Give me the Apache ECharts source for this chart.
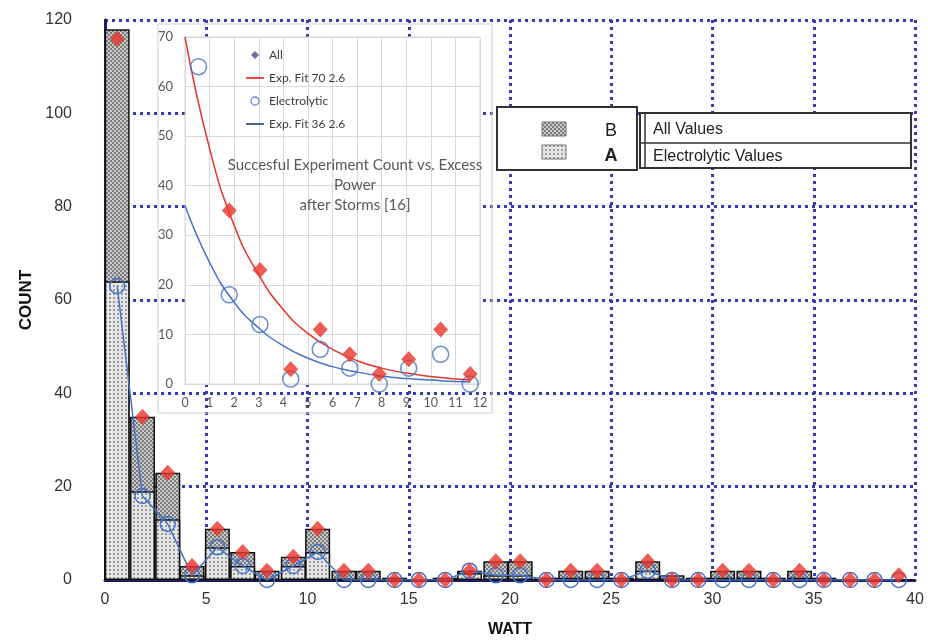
<!DOCTYPE html>
<html><head><meta charset="utf-8">
<script src="https://cdn.jsdelivr.net/npm/echarts@6/dist/echarts.min.js"></script>
<style>html,body{margin:0;padding:0;background:#fff}#c{width:928px;height:640px}</style>
</head><body><div id="c"></div>
<script>
// ---- main histogram data (bin centres in W, counts) ----
const binCenters = [0.6, 1.85, 3.1, 4.3, 5.55, 6.8, 8.0, 9.3, 10.5, 11.8, 13.0, 14.3, 15.5, 16.8, 18.0, 19.3, 20.5, 21.8, 23.0, 24.3, 25.5, 26.8, 28.0, 29.3, 30.5, 31.8, 33.0, 34.3, 35.5, 36.8, 38.0, 39.2];
const allCounts  = [116, 35, 23, 3, 11, 6, 2, 5, 11, 2, 2, 0, 0, 0, 2, 4, 4, 0, 2, 2, 0, 4, 0, 0, 2, 2, 0, 2, 0, 0, 0, 1];
const elecCounts = [63, 18, 12, 1, 7, 3, 0, 3, 6, 0, 0, 0, 0, 0, 2, 1, 1, 0, 0, 0, 0, 2, 0, 0, 0, 0, 0, 0, 0, 0, 0, 0];
const allBars    = [118, 35, 23, 3, 11, 6, 2, 5, 11, 2, 2, 0.5, 0, 0.5, 2, 4, 4, 0.5, 2, 2, 0.5, 4, 1, 0.5, 2, 2, 0.5, 2, 0.5, 0, 0, 0];
const elecBars   = [64, 19, 13, 1, 7, 3, 0, 3, 6, 0, 0, 0, 0, 0, 1.5, 1, 1, 0, 0.5, 0.5, 0, 2, 0, 0, 0.5, 0.5, 0, 0.5, 0, 0, 0, 0];
const mainXTicks = [0, 5, 10, 15, 20, 25, 30, 35, 40];
const mainYTicks = [0, 20, 40, 60, 80, 100, 120];

// ---- inset data ----
const insetX    = [0.55, 1.8, 3.05, 4.3, 5.5, 6.7, 7.9, 9.1, 10.4, 11.6];
const insetAll  = [116, 35, 23, 3, 11, 6, 2, 5, 11, 2];
const insetElec = [64, 18, 12, 1, 7, 3.2, 0, 3.2, 6, 0];
const fitX      = [0, 1, 2, 3, 4, 5, 6, 7, 8, 9, 10, 11, 11.6];
const fitAll    = [70, 47.5, 32, 22, 15, 10.2, 7, 4.7, 3.2, 2.2, 1.5, 1.0, 0.8];
const fitElec   = [36, 24.5, 16.5, 11.3, 7.7, 5.2, 3.5, 2.4, 1.6, 1.1, 0.8, 0.5, 0.4];
const insetTitle = 'Succesful Experiment Count vs. Excess\nPower\nafter Storms [16]';
const insetNames = ['All', 'Exp. Fit 70 2.6', 'Electrolytic', 'Exp. Fit 36 2.6'];
const legendRows = [['B', 'All Values'], ['A', 'Electrolytic Values']];

function makePattern(w, h, bg, fg, cells) {
  const c = document.createElement('canvas'); c.width = w; c.height = h;
  const g = c.getContext('2d'); g.fillStyle = bg; g.fillRect(0, 0, w, h);
  g.fillStyle = fg; cells.forEach(r => g.fillRect(r[0], r[1], r[2], r[3]));
  return c;
}
const patB = makePattern(4, 4, '#7c7c7c', '#c8c8c8', [[0, 0, 2, 2], [2, 2, 2, 2]]);
const patA = makePattern(4, 4, '#e6e6e6', '#9c9c9c', [[1, 1, 2, 2]]);
const fillB = { image: patB, repeat: 'repeat' };
const fillA = { image: patA, repeat: 'repeat' };

const zip = (xs, ys) => xs.map((x, i) => [x, ys[i]]);
const RED = '#e8342b', BLUE = '#4472c4', GRIDBLUE = '#3a3ab0';
const mainFont = 'Liberation Sans, Arial, sans-serif';
const insetFont = 'Lato, Open Sans, sans-serif';
const lineIcon = 'path://M0,0L20,0L20,2L0,2Z';
const diamondIcon = 'path://M5,0L10,5L5,10L0,5Z';
const circleIcon = 'path://M5,0A5,5,0,1,1,4.99,0Z';

const chart = echarts.init(document.getElementById('c'), null, { renderer: 'canvas' });

const graphics = [
  { type: 'rect', zlevel: 1, z: -5, shape: { x: 158, y: 24, width: 334, height: 389 }, style: { fill: 'transparent', stroke: '#d0d0d0', lineWidth: 1 } },
  { type: 'text', zlevel: 1, z: 50, style: { text: insetTitle, x: 355, y: 155, textAlign: 'center', align: 'center', font: '15px ' + insetFont, lineHeight: 20, fill: '#595959' } },
  // main legend box
  { type: 'rect', zlevel: 1, shape: { x: 497, y: 107, width: 140, height: 63 }, style: { fill: '#fff', stroke: '#333', lineWidth: 2 } },
  { type: 'rect', zlevel: 1, shape: { x: 640, y: 113, width: 271, height: 55 }, style: { fill: '#fff', stroke: '#333', lineWidth: 2 } },
  { type: 'line', zlevel: 1, shape: { x1: 645, y1: 113, x2: 645, y2: 168 }, style: { stroke: '#333', lineWidth: 1.5 } },
  { type: 'line', zlevel: 1, shape: { x1: 640, y1: 143, x2: 911, y2: 143 }, style: { stroke: '#333', lineWidth: 1.5 } },
  { type: 'rect', zlevel: 1, shape: { x: 542, y: 122, width: 24, height: 14 }, style: { fill: fillB, stroke: '#777', lineWidth: 1 } },
  { type: 'rect', zlevel: 1, shape: { x: 542, y: 145, width: 24, height: 14 }, style: { fill: fillA, stroke: '#777', lineWidth: 1 } },
];
legendRows.forEach((r, i) => {
  graphics.push({ type: 'text', zlevel: 1, style: { text: r[0], x: 611, y: 131 + i * 25, textAlign: 'center', align: 'center', textVerticalAlign: 'middle', verticalAlign: 'middle', font: (i ? 'bold ' : '') + '18px ' + mainFont, fill: '#222' } });
  graphics.push({ type: 'text', zlevel: 1, style: { text: r[1], x: 653, y: 130 + i * 27, textVerticalAlign: 'middle', verticalAlign: 'middle', font: '16px ' + mainFont, fill: '#222' } });
});

const option = {
  animation: false,
  backgroundColor: '#fff',
  grid: [
    { left: 105, top: 20, width: 810, height: 560, show: false, containLabel: false, outerBoundsMode: 'none' },
    { left: 185, top: 37, width: 295, height: 347, show: true, backgroundColor: '#fff', borderColor: '#d9d9d9', borderWidth: 1, zlevel: 1, containLabel: false, outerBoundsMode: 'none' }
  ],
  xAxis: [
    { type: 'value', gridIndex: 0, min: mainXTicks[0], max: mainXTicks[mainXTicks.length - 1], interval: 5,
      name: 'WATT', nameLocation: 'middle', nameGap: 42, nameTextStyle: { fontFamily: mainFont, fontWeight: 'bold', fontSize: 16, color: '#111' },
      axisLine: { show: true, onZero: false, lineStyle: { color: '#1c1c62', width: 3 } }, axisTick: { show: false },
      axisLabel: { fontFamily: mainFont, fontSize: 16, color: '#333', margin: 12 },
      splitLine: { show: true, lineStyle: { color: GRIDBLUE, width: 3, type: [3, 4] } } },
    { type: 'value', gridIndex: 1, min: 0, max: 12, interval: 1, zlevel: 1,
      axisLine: { show: true, onZero: false, lineStyle: { color: '#d9d9d9' } }, axisTick: { show: false },
      axisLabel: { fontFamily: insetFont, fontSize: 12.5, color: '#595959', margin: 12 },
      splitLine: { show: true, lineStyle: { color: '#d9d9d9', width: 1 } } }
  ],
  yAxis: [
    { type: 'value', gridIndex: 0, min: mainYTicks[0], max: mainYTicks[mainYTicks.length - 1], interval: 20,
      name: 'COUNT', nameLocation: 'middle', nameGap: 64, nameTextStyle: { fontFamily: mainFont, fontWeight: 'bold', fontSize: 17, color: '#111' },
      axisLine: { show: true, lineStyle: { color: '#1c1c62', width: 3 } }, axisTick: { show: false },
      axisLabel: { fontFamily: mainFont, fontSize: 16, color: '#333', margin: 33 },
      splitLine: { show: true, lineStyle: { color: GRIDBLUE, width: 3, type: [3, 4] } } },
    { type: 'value', gridIndex: 1, min: 0, max: 70, interval: 10, zlevel: 1,
      axisLine: { show: false }, axisTick: { show: false },
      axisLabel: { fontFamily: insetFont, fontSize: 13, color: '#595959', margin: 12 },
      splitLine: { show: true, lineStyle: { color: '#d9d9d9', width: 1 } } }
  ],
  legend: {
    zlevel: 1, orient: 'vertical', left: 241, top: 44, itemWidth: 18, itemHeight: 8, itemGap: 11,
    symbolKeepAspect: true,
    textStyle: { fontFamily: insetFont, fontSize: 12, color: '#404040' },
    data: [
      { name: insetNames[0], icon: diamondIcon, itemStyle: { color: '#4b4b8f', borderWidth: 0 } },
      { name: insetNames[1], icon: lineIcon, itemStyle: { color: RED, borderWidth: 0 } },
      { name: insetNames[2], icon: circleIcon, itemStyle: { color: '#fff', borderColor: BLUE, borderWidth: 1.3 } },
      { name: insetNames[3], icon: lineIcon, itemStyle: { color: '#3d4f9a', borderWidth: 0 } }
    ]
  },
  graphic: graphics,
  series: [
    { name: 'All Values', type: 'bar', xAxisIndex: 0, yAxisIndex: 0, data: zip(binCenters, allBars), barWidth: 25, barGap: '-100%', z: 2,
      itemStyle: { color: fillB, borderColor: '#111', borderWidth: 1.5 } },
    { name: 'Electrolytic Values', type: 'bar', xAxisIndex: 0, yAxisIndex: 0, data: zip(binCenters, elecBars), barWidth: 25, barGap: '-100%', z: 3,
      itemStyle: { color: fillA, borderColor: '#111', borderWidth: 1.5 } },
    { name: 'Electrolytic (main)', type: 'line', xAxisIndex: 0, yAxisIndex: 0, data: zip(binCenters, elecCounts), z: 5,
      symbol: 'circle', symbolSize: 15, lineStyle: { color: BLUE, width: 1.5 },
      itemStyle: { color: 'rgba(255,255,255,0)', borderColor: BLUE, borderWidth: 1.5 } },
    { name: 'All (main)', type: 'scatter', xAxisIndex: 0, yAxisIndex: 0, data: zip(binCenters, allCounts), z: 6,
      symbol: 'diamond', symbolSize: [15, 16], itemStyle: { color: RED } },

    { name: insetNames[1], type: 'line', xAxisIndex: 1, yAxisIndex: 1, zlevel: 1, z: 3, data: zip(fitX, fitAll), smooth: true, symbol: 'none',
      lineStyle: { color: RED, width: 1.5 }, itemStyle: { color: RED } },
    { name: insetNames[3], type: 'line', xAxisIndex: 1, yAxisIndex: 1, zlevel: 1, z: 3, data: zip(fitX, fitElec), smooth: true, symbol: 'none',
      lineStyle: { color: BLUE, width: 1.5 }, itemStyle: { color: BLUE } },
    { name: insetNames[2], type: 'scatter', xAxisIndex: 1, yAxisIndex: 1, zlevel: 1, z: 4, data: zip(insetX, insetElec), clip: true,
      symbol: 'circle', symbolSize: 16, itemStyle: { color: 'rgba(255,255,255,0)', borderColor: BLUE, borderWidth: 1.5 } },
    { name: insetNames[0], type: 'scatter', xAxisIndex: 1, yAxisIndex: 1, zlevel: 1, z: 5, data: zip(insetX, insetAll), clip: true,
      symbol: 'diamond', symbolSize: [15, 16], itemStyle: { color: RED } }
  ]
};
chart.setOption(option);
</script></body></html>
